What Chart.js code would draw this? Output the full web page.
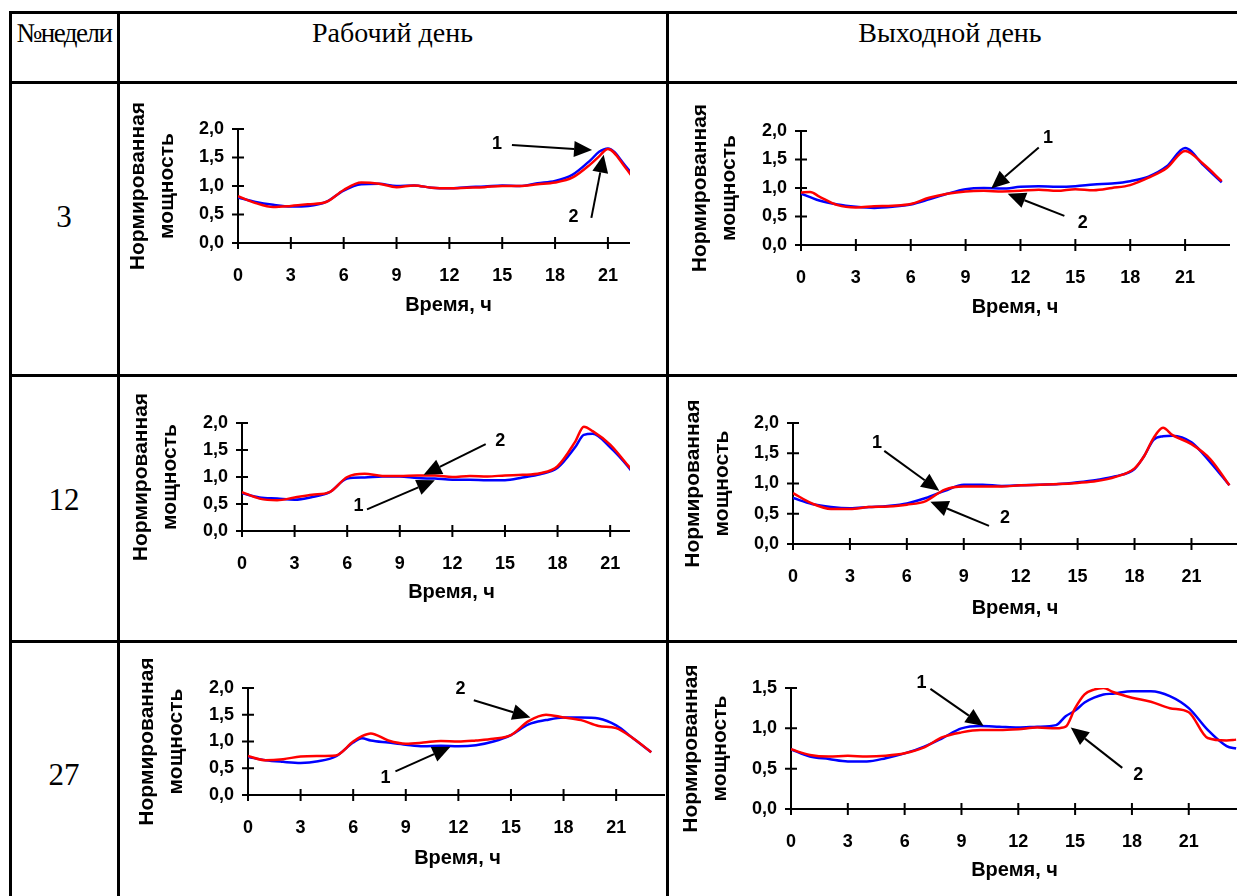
<!DOCTYPE html>
<html>
<head>
<meta charset="utf-8">
<script src="https://cdn.jsdelivr.net/npm/chart.js@4.4.0/dist/chart.umd.min.js"></script>
<style>
  body { margin: 0; background: #fff; width: 1237px; height: 896px; overflow: hidden; position: relative; }
  .hl { position: absolute; height: 3px; background: #000; }
  .vl { position: absolute; width: 3px; background: #000; }
  .txt { position: absolute; font-family: "Liberation Serif", "Times New Roman", serif; color: #000; text-align: center; white-space: nowrap; }
  .crop { position: absolute; overflow: hidden; }
  .crop canvas { position: absolute; left: 0; top: 0; }
</style>
</head>
<body>
<div class="hl" style="left:9px; top:11px; width:1240px"></div>
<div class="hl" style="left:9px; top:81px; width:1240px"></div>
<div class="hl" style="left:9px; top:374px; width:1240px"></div>
<div class="hl" style="left:9px; top:640px; width:1240px"></div>
<div class="vl" style="left:9px; top:11px; height:900px"></div>
<div class="vl" style="left:117px; top:11px; height:900px"></div>
<div class="vl" style="left:666px; top:11px; height:900px"></div>

<div class="txt" style="left:11px; width:106px; top:17px; font-size:27px; line-height:32px; letter-spacing:-1.5px">№недели</div>
<div class="txt" style="left:119px; width:547px; top:17px; font-size:28px; line-height:32px">Рабочий день</div>
<div class="txt" style="left:668px; width:564px; top:17px; font-size:28px; line-height:32px">Выходной день</div>
<div class="txt" style="left:11px; width:106px; top:199px; font-size:31px; line-height:36px">3</div>
<div class="txt" style="left:11px; width:106px; top:482px; font-size:31px; line-height:36px">12</div>
<div class="txt" style="left:11px; width:106px; top:757px; font-size:31px; line-height:36px">27</div>

<script>
// tick labels
const xTicks = [0, 3, 6, 9, 12, 15, 18, 21];
const yTicks2 = [0, 0.5, 1, 1.5, 2];
const yTicks15 = [0, 0.5, 1, 1.5];

// неделя 3, рабочий день
const wd3Hours = [0, 1, 2, 3, 4, 5, 6, 7, 8, 9, 10, 11, 12, 13, 14, 15, 16, 17, 18, 19, 20, 20.5, 21, 22, 23];
const wd3Blue = [0.80, 0.72, 0.67, 0.64, 0.65, 0.72, 0.92, 1.03, 1.04, 1.00, 1.01, 0.97, 0.96, 0.98, 0.99, 1.01, 1.00, 1.05, 1.09, 1.20, 1.45, 1.60, 1.66, 1.35, 0.95];
const wd3Red = [0.82, 0.70, 0.63, 0.65, 0.68, 0.72, 0.93, 1.06, 1.04, 0.98, 1.01, 0.97, 0.96, 0.97, 0.98, 1.00, 1.00, 1.03, 1.06, 1.15, 1.38, 1.52, 1.65, 1.32, 0.88];
const wd3Arrows = [
  { label: '1', text: [14.7, 1.73], from: [15.55, 1.72], to: [20.1, 1.63] },
  { label: '2', text: [19.05, 0.45], from: [20.06, 0.44], to: [20.76, 1.55] }
];

// неделя 3, выходной день
const we3Hours = [0, 0.5, 1, 2, 3, 4, 5, 6, 7, 8, 9, 10, 11, 12, 13, 14, 15, 16, 17, 18, 19, 20, 21, 22, 23];
const we3Blue = [0.90, 0.84, 0.78, 0.71, 0.67, 0.65, 0.67, 0.71, 0.80, 0.90, 0.98, 1.00, 0.99, 1.02, 1.03, 1.02, 1.03, 1.06, 1.08, 1.12, 1.20, 1.38, 1.70, 1.40, 1.10];
const we3Red = [0.92, 0.93, 0.85, 0.70, 0.66, 0.68, 0.69, 0.72, 0.83, 0.90, 0.94, 0.95, 0.94, 0.95, 0.97, 0.95, 0.98, 0.96, 1.00, 1.05, 1.18, 1.35, 1.65, 1.42, 1.12];
const we3Arrows = [
  { label: '1', text: [13.5, 1.87], from: [13.0, 1.71], to: [10.4, 0.99] },
  { label: '2', text: [15.4, 0.38], from: [14.4, 0.51], to: [11.3, 0.90] }
];

// неделя 12, рабочий день
const wd12Hours = [0, 1, 2, 3, 4, 5, 6, 7, 8, 9, 10, 11, 12, 13, 14, 15, 16, 17, 18, 19, 19.5, 20, 21, 22, 23];
const wd12Blue = [0.70, 0.62, 0.60, 0.58, 0.63, 0.72, 0.97, 0.99, 1.01, 1.01, 0.98, 0.97, 0.95, 0.95, 0.94, 0.94, 0.99, 1.05, 1.17, 1.55, 1.78, 1.80, 1.55, 1.20, 0.76];
const wd12Red = [0.72, 0.60, 0.57, 0.62, 0.67, 0.72, 1.00, 1.06, 1.02, 1.02, 1.03, 1.03, 1.00, 1.02, 1.01, 1.03, 1.04, 1.07, 1.20, 1.65, 1.93, 1.85, 1.60, 1.22, 0.85];
const wd12Arrows = [
  { label: '2', text: [14.73, 1.66], from: [13.9, 1.61], to: [10.36, 1.04] },
  { label: '1', text: [6.65, 0.46], from: [7.13, 0.40], to: [11.0, 0.94] }
];

// неделя 12, выходной день
const we12Hours = [0, 1, 2, 3, 4, 5, 6, 7, 8, 9, 10, 11, 12, 13, 14, 15, 16, 17, 18, 18.5, 19, 19.5, 20, 21, 22, 23];
const we12Blue = [0.76, 0.66, 0.61, 0.59, 0.61, 0.63, 0.67, 0.76, 0.88, 0.98, 0.98, 0.96, 0.97, 0.98, 0.99, 1.02, 1.06, 1.12, 1.24, 1.45, 1.72, 1.78, 1.79, 1.68, 1.35, 0.97];
const we12Red = [0.84, 0.67, 0.58, 0.58, 0.61, 0.62, 0.65, 0.71, 0.90, 0.95, 0.95, 0.95, 0.97, 0.98, 0.99, 1.01, 1.04, 1.11, 1.25, 1.45, 1.75, 1.92, 1.80, 1.65, 1.40, 0.97];
const we12Arrows = [
  { label: '1', text: [4.43, 1.67], from: [4.81, 1.54], to: [7.71, 0.88] },
  { label: '2', text: [11.17, 0.43], from: [10.33, 0.30], to: [7.24, 0.70] }
];

// неделя 27, рабочий день
const wd27Hours = [0, 1, 2, 3, 4, 5, 6, 6.5, 7, 8, 9, 10, 11, 12, 13, 14, 15, 16, 17, 18, 19, 20, 21, 22, 23];
const wd27Blue = [0.71, 0.65, 0.62, 0.60, 0.63, 0.72, 0.98, 1.06, 1.02, 0.98, 0.94, 0.91, 0.92, 0.91, 0.93, 1.00, 1.12, 1.32, 1.40, 1.45, 1.45, 1.43, 1.30, 1.05, 0.80];
const wd27Red = [0.73, 0.65, 0.67, 0.72, 0.73, 0.74, 1.00, 1.10, 1.15, 1.02, 0.96, 0.98, 1.01, 1.00, 1.02, 1.05, 1.12, 1.38, 1.50, 1.45, 1.40, 1.29, 1.25, 1.05, 0.80];
const wd27Arrows = [
  { label: '2', text: [12.12, 1.99], from: [12.88, 1.77], to: [16.11, 1.45] },
  { label: '1', text: [7.84, 0.32], from: [8.41, 0.44], to: [11.55, 0.90] }
];

// неделя 27, выходной день
const we27Hours = [0, 1, 2, 3, 4, 5, 6, 7, 8, 9, 10, 11, 12, 13, 14, 14.5, 15, 15.5, 16, 16.5, 17, 18, 19, 20, 21, 22, 23, 23.5];
const we27Blue = [0.74, 0.65, 0.62, 0.59, 0.59, 0.63, 0.69, 0.77, 0.88, 1.00, 1.03, 1.02, 1.01, 1.02, 1.04, 1.15, 1.22, 1.32, 1.38, 1.42, 1.43, 1.46, 1.46, 1.40, 1.25, 0.98, 0.78, 0.75];
const we27Red = [0.74, 0.67, 0.65, 0.66, 0.65, 0.66, 0.69, 0.76, 0.89, 0.95, 0.98, 0.98, 0.99, 1.01, 1.00, 1.02, 1.25, 1.42, 1.48, 1.50, 1.45, 1.38, 1.33, 1.25, 1.20, 0.88, 0.85, 0.86];
const we27Arrows = [
  { label: '1', text: [6.89, 1.56], from: [7.36, 1.49], to: [10.17, 1.03] },
  { label: '2', text: [18.33, 0.42], from: [17.49, 0.51], to: [14.77, 1.01] }
];

const font = 'Liberation Sans, Arial, sans-serif';

function panel(hours, blue, red, yMax, yTicks, marks, box) {
  const titleLH = 28.5;
  const yW = box.plotLeft - Math.round(box.titleX - titleLH / 2);
  const padTop = 45, padRight = 6;
  const plotW = Math.round(box.xMax * box.pxPerHour);
  const xH = Math.round(box.xTitleY + 12 - box.plotBottom);
  const left = box.plotLeft - yW;
  const canvas = document.createElement('canvas');
  canvas.width = yW + plotW + padRight;
  canvas.height = padTop + (box.plotBottom - box.plotTop) + xH;
  // the document crops some of the pictures on the right
  const wrap = document.createElement('div');
  wrap.className = 'crop';
  wrap.style.left = left + 'px';
  wrap.style.top = (box.plotTop - padTop) + 'px';
  wrap.style.width = ((box.cropRight || 1240) - left) + 'px';
  wrap.style.height = canvas.height + 'px';
  wrap.appendChild(canvas);
  document.body.appendChild(wrap);

  const ticksAndArrows = {
    id: 'ticksAndArrows',
    afterDraw(chart) {
      const { ctx, chartArea: a, scales: { x, y } } = chart;
      ctx.save();
      ctx.strokeStyle = '#000';
      ctx.fillStyle = '#000';
      ctx.lineWidth = 2;
      ctx.beginPath();
      xTicks.forEach(v => {
        const px = x.getPixelForValue(v);
        ctx.moveTo(px, a.bottom - 6); ctx.lineTo(px, a.bottom + 6);
      });
      yTicks.forEach(v => {
        const py = y.getPixelForValue(v);
        ctx.moveTo(a.left - 6, py); ctx.lineTo(a.left + 6, py);
      });
      ctx.stroke();

      marks.forEach(m => {
        const x1 = x.getPixelForValue(m.from[0]), y1 = y.getPixelForValue(m.from[1]);
        const x2 = x.getPixelForValue(m.to[0]), y2 = y.getPixelForValue(m.to[1]);
        const ang = Math.atan2(y2 - y1, x2 - x1);
        const hl = 18, hw = 8;
        const bx = x2 - hl * Math.cos(ang), by = y2 - hl * Math.sin(ang);
        ctx.beginPath();
        ctx.moveTo(x1, y1); ctx.lineTo(bx, by);
        ctx.stroke();
        ctx.beginPath();
        ctx.moveTo(x2, y2);
        ctx.lineTo(bx + hw * Math.sin(ang), by - hw * Math.cos(ang));
        ctx.lineTo(bx - hw * Math.sin(ang), by + hw * Math.cos(ang));
        ctx.closePath();
        ctx.fill();
        ctx.font = 'bold 18px ' + font;
        ctx.textAlign = 'center';
        ctx.textBaseline = 'middle';
        ctx.fillText(m.label, x.getPixelForValue(m.text[0]), y.getPixelForValue(m.text[1]));
      });
      ctx.restore();
    }
  };

  new Chart(canvas, {
    type: 'line',
    data: {
      datasets: [{
        data: hours.map((h, i) => ({ x: h, y: red[i] })),
        borderColor: '#ff0000',
        borderWidth: 2.5,
        order: 0
      }, {
        data: hours.map((h, i) => ({ x: h, y: blue[i] })),
        borderColor: '#0000ff',
        borderWidth: 2.5,
        order: 1
      }]
    },
    options: {
      responsive: false,
      animation: false,
      devicePixelRatio: 1,
      layout: { autoPadding: false, padding: { left: 0, top: padTop, right: padRight, bottom: 0 } },
      elements: { point: { radius: 0 }, line: { cubicInterpolationMode: 'monotone', fill: false } },
      plugins: { legend: { display: false }, tooltip: { enabled: false } },
      scales: {
        x: {
          type: 'linear', min: 0, max: box.xMax,
          afterBuildTicks: s => { s.ticks = xTicks.map(v => ({ value: v })); },
          afterFit: s => { s.height = xH; s.paddingLeft = 0; s.paddingRight = 0; },
          grid: { display: false, drawTicks: false },
          border: { display: true, color: '#000', width: 2 },
          ticks: { color: '#000', padding: 22, maxRotation: 0, autoSkip: false, font: { family: font, size: 18, weight: 'bold' } },
          title: { display: true, text: 'Время, ч', color: '#000', padding: 0, font: { family: font, size: 20, weight: 'bold', lineHeight: 1.2 } }
        },
        y: {
          min: 0, max: yMax,
          afterBuildTicks: s => { s.ticks = yTicks.map(v => ({ value: v })); },
          afterFit: s => { s.width = yW; s.paddingTop = 0; s.paddingBottom = 0; },
          grid: { display: false, drawTicks: false },
          border: { display: true, color: '#000', width: 2 },
          ticks: { color: '#000', padding: 14, font: { family: font, size: 18, weight: 'bold' },
            callback: v => v.toFixed(1).replace('.', ',') },
          title: { display: true, text: ['Нормированная', 'мощность'], color: '#000', padding: 0,
            font: { family: font, size: 21, weight: 'bold', lineHeight: 1.36 } }
        }
      }
    },
    plugins: [ticksAndArrows]
  });
}

panel(wd3Hours, wd3Blue, wd3Red, 2, yTicks2, wd3Arrows,
  { plotLeft: 238, plotTop: 129, plotBottom: 243, pxPerHour: 17.62, xMax: 23.9, titleX: 138, xTitleY: 305, cropRight: 630 });
panel(we3Hours, we3Blue, we3Red, 2, yTicks2, we3Arrows,
  { plotLeft: 801, plotTop: 131, plotBottom: 245, pxPerHour: 18.27, xMax: 23.4, titleX: 700, xTitleY: 307 });
panel(wd12Hours, wd12Blue, wd12Red, 2, yTicks2, wd12Arrows,
  { plotLeft: 242, plotTop: 423, plotBottom: 531, pxPerHour: 17.54, xMax: 23.9, titleX: 141, xTitleY: 592, cropRight: 630 });
panel(we12Hours, we12Blue, we12Red, 2, yTicks2, we12Arrows,
  { plotLeft: 793, plotTop: 423, plotBottom: 544, pxPerHour: 18.98, xMax: 23.4, titleX: 693, xTitleY: 608 });
panel(wd27Hours, wd27Blue, wd27Red, 2, yTicks2, wd27Arrows,
  { plotLeft: 248, plotTop: 688, plotBottom: 795, pxPerHour: 17.52, xMax: 23.9, titleX: 147, xTitleY: 858, cropRight: 665 });
panel(we27Hours, we27Blue, we27Red, 1.5, yTicks15, we27Arrows,
  { plotLeft: 791, plotTop: 688, plotBottom: 809, pxPerHour: 18.93, xMax: 23.6, titleX: 691, xTitleY: 870 });
</script>
</body>
</html>
